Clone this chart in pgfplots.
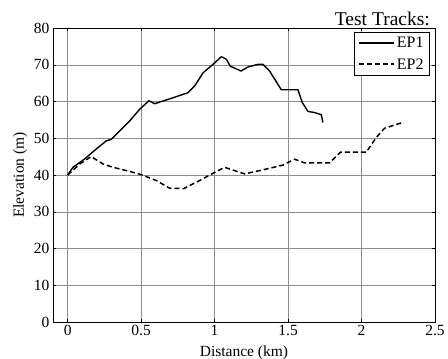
\documentclass[border=0pt]{standalone}
\usepackage{fontspec}
\setmainfont{Liberation Serif}
\usepackage{pgfplots}
\pgfplotsset{compat=1.18}
\begin{document}
\begin{tikzpicture}
\begin{axis}[
 scale only axis, width=382pt, height=294pt,
 xmin=-0.1, xmax=2.5, ymin=0, ymax=80,
 xtick={0,0.5,1,1.5,2,2.5}, ytick={0,10,...,80},
 xticklabels={0,0.5,1,1.5,2,2.5},
 grid=major, major grid style={black!45, line width=0.5pt},
 tick align=inside, major tick length=3pt, tick style={black, line width=0.5pt},
 axis line style={black, line width=0.8pt},
 ticklabel style={font=\fontsize{15.5}{16}\selectfont},
 /pgf/number format/assume math mode=true,
 label style={font=\fontsize{15.5}{16}\selectfont},
 xlabel={Distance (km)}, ylabel={Elevation (m)},
 xlabel style={yshift=-3pt},
 legend style={at={(rel axis cs:1,1)}, anchor=north east, xshift=-5pt, yshift=-4pt,
   draw=black, line width=0.8pt, fill=white, font=\fontsize{16}{17}\selectfont,
   inner xsep=4pt, inner ysep=3pt, row sep=5pt},
 legend cell align=left,
 legend image code/.code={\draw[#1, line width=1.7pt] plot coordinates {(0pt,0.3pt) (17.5pt,0.3pt) (35pt,0.3pt)};},
]
\addplot[black, line width=1.4pt] coordinates {
(0,40) (0.036,42.1) (0.082,43.4) (0.116,44.4) (0.195,47.1) (0.263,49.3) (0.297,49.7)
(0.354,52) (0.422,54.7) (0.49,57.9) (0.553,60.2) (0.592,59.4) (0.716,61) (0.819,62.4)
(0.864,64.2) (0.921,67.8) (0.989,70.1) (1.046,72.2) (1.08,71.5) (1.107,69.6) (1.18,68.3)
(1.227,69.4) (1.295,70.1) (1.33,70.1) (1.374,68.3) (1.454,63.2) (1.567,63.2) (1.597,59.7)
(1.635,57.3) (1.68,57) (1.726,56.4) (1.737,54.3)
};
\addlegendentry{EP1}
\addplot[black, line width=1.5pt, dash pattern=on 5pt off 3pt] coordinates {
(0,40) (0.082,43) (0.16,45) (0.24,43) (0.308,42.1) (0.4,41.2) (0.501,40.1) (0.603,38.5)
(0.694,36.4) (0.79,36.3) (0.898,38.5) (1.0,40.7) (1.068,42.1) (1.204,40.3) (1.329,41.4)
(1.465,42.7) (1.544,44.3) (1.612,43.3) (1.782,43.3) (1.857,46.2) (2.032,46.2) (2.1,50.2)
(2.156,52.7) (2.28,54.3)
};
\addlegendentry{EP2}
\end{axis}
\node[anchor=base east, font=\fontsize{19.5}{20}\selectfont, inner sep=0pt] at ([xshift=-5pt,yshift=3pt]current axis.north east) {Test Tracks:};
\pgfresetboundingbox
\path[use as bounding box] (current axis.south west) ++(-53pt,-37pt) rectangle ++(448pt,359pt);
\end{tikzpicture}
\end{document}
